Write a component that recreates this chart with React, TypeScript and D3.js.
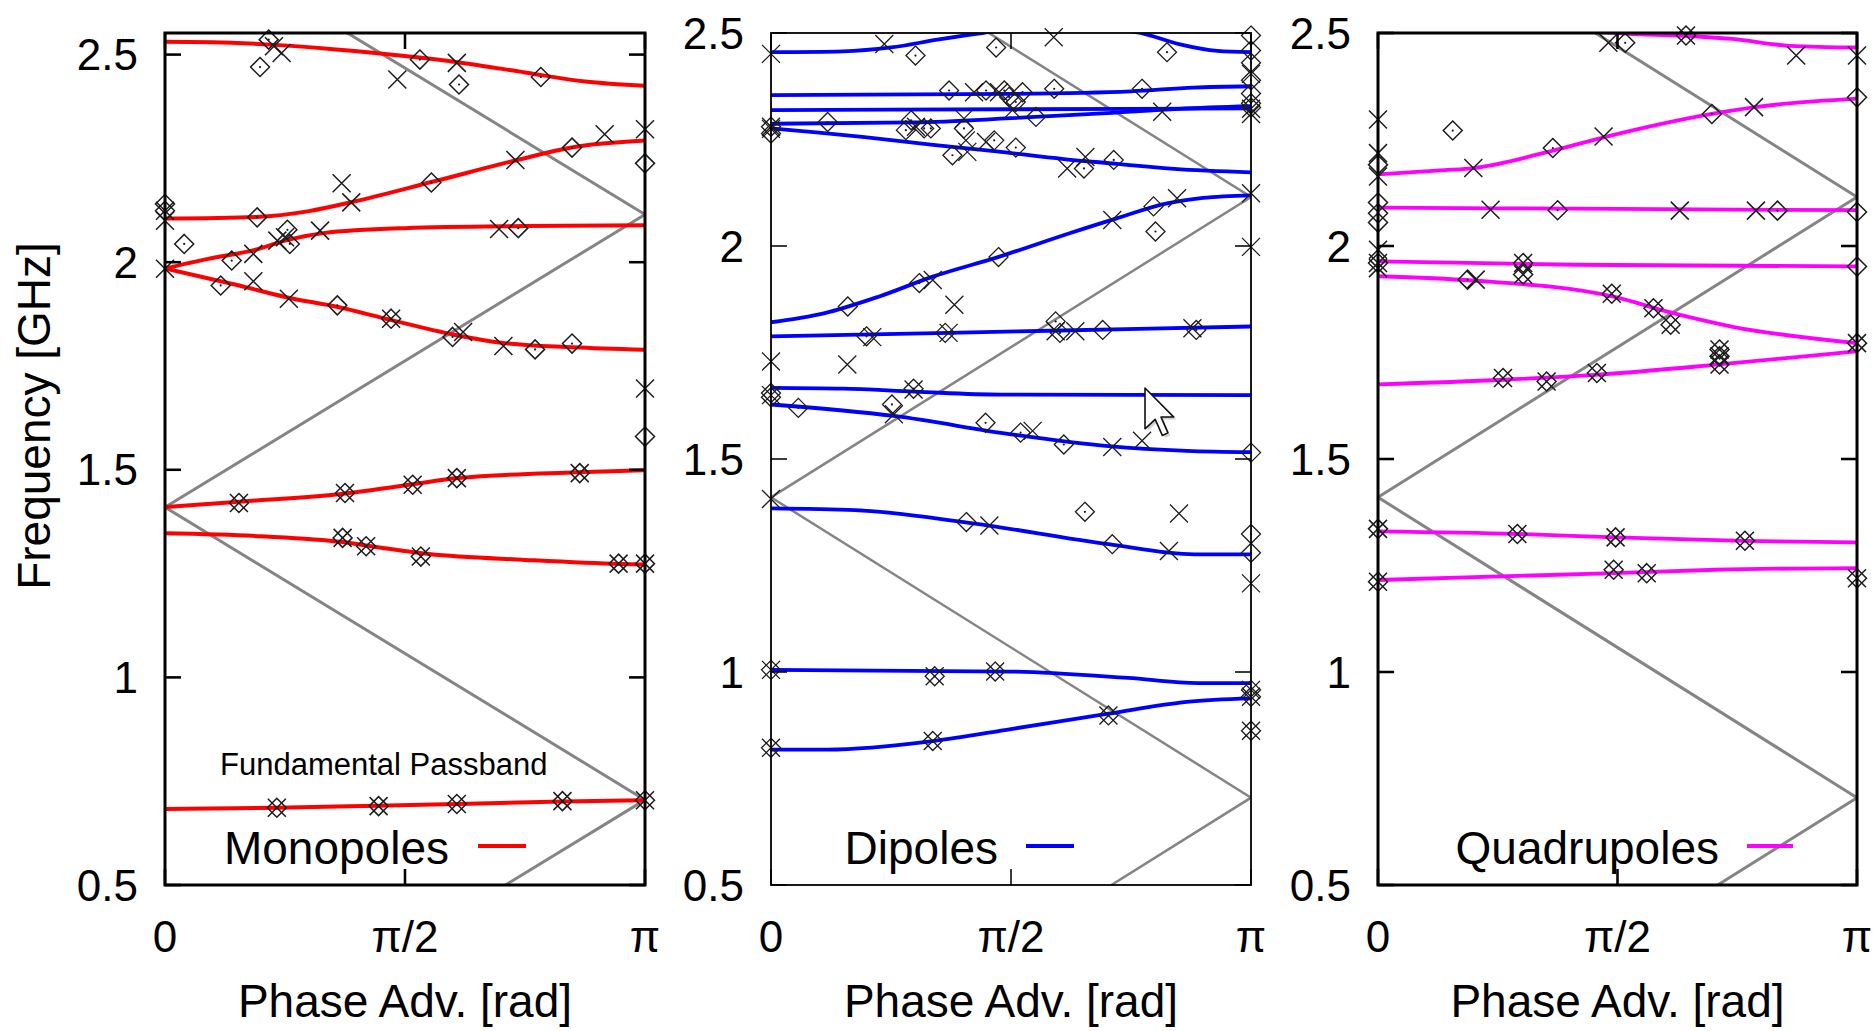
import React from "react";
import * as d3 from "d3";

// [phase advance / π, frequency in GHz]
type Pt = [number, number];

// Folded light line f = c·φ / (2πL) in the reduced zone
const lightLine: Pt[] = [[0, 0], [1, 0.705], [0, 1.41], [1, 2.115], [0, 2.82]];

const phaseTicks = [0, 0.5, 1];
const phaseTickLabels = ["0", "π/2", "π"];
const freqTicks = [0.5, 1, 1.5, 2, 2.5];
const freqTickLabels = ["0.5", "1", "1.5", "2", "2.5"];

// ---------- Monopoles ----------
const monopoleBands: Pt[][] = [
  [[0, 2.531], [0.1, 2.53], [0.22, 2.524], [0.35, 2.513], [0.52, 2.494], [0.62, 2.48], [0.75, 2.457], [0.875, 2.435], [1, 2.425]],
  [[0, 2.105], [0.19, 2.109], [0.3, 2.123], [0.39, 2.145], [0.555, 2.193], [0.73, 2.245], [0.85, 2.277], [1, 2.293]],
  [[0, 1.985], [0.09, 2.008], [0.185, 2.029], [0.26, 2.055], [0.33, 2.07], [0.5, 2.082], [0.75, 2.087], [1, 2.089]],
  [[0, 1.985], [0.15, 1.945], [0.255, 1.915], [0.36, 1.892], [0.47, 1.861], [0.6, 1.826], [0.7, 1.806], [0.85, 1.795], [1, 1.789]],
  [[0, 1.41], [0.154, 1.423], [0.375, 1.443], [0.516, 1.465], [0.61, 1.48], [0.86, 1.494], [1, 1.499]],
  [[0, 1.347], [0.2, 1.34], [0.37, 1.326], [0.45, 1.312], [0.55, 1.297], [0.75, 1.283], [0.95, 1.273], [1, 1.272]],
  [[0, 0.683], [0.233, 0.686], [0.445, 0.691], [0.608, 0.695], [0.828, 0.701], [1, 0.704]],
];
const monopoleCrosses: Pt[] = [
  [0.227, 2.52], [0.243, 2.504], [0.484, 2.44], [0.608, 2.48], [1, 2.32], [0.916, 2.308], [0.73, 2.246],
  [0.368, 2.19], [0.388, 2.144], [0, 2.1], [0, 1.984], [0.184, 2.02], [0.184, 1.954], [0.234, 2.052],
  [0.25, 2.06], [0.323, 2.076], [0.258, 1.912], [0.696, 2.08], [0.621, 1.832], [0.705, 1.798], [1, 1.696],
];
const monopoleDiamonds: Pt[] = [
  [0.216, 2.536], [0.198, 2.47], [0.531, 2.488], [0.6125, 2.428], [0.783, 2.446], [1, 2.238], [0.848, 2.276],
  [0.555, 2.192], [0.192, 2.108], [0, 2.14], [0.04, 2.044], [0.139, 2.004], [0.116, 1.944], [0.255, 2.078],
  [0.26, 2.044], [0.359, 1.896], [0.736, 2.082], [0.599, 1.82], [0.771, 1.79], [0.848, 1.804], [1, 1.58],
];
const monopoleBoth: Pt[] = [
  [0, 2.124], [0.471, 1.864], [0.154, 1.42], [0.375, 1.444], [0.516, 1.464], [0.608, 1.48], [0.864, 1.492],
  [0.37, 1.336], [0.419, 1.316], [0.533, 1.291], [0.945, 1.274], [1, 1.274],
  [0.233, 0.686], [0.445, 0.69], [0.608, 0.695], [0.828, 0.702], [1, 0.704],
];

// ---------- Dipoles ----------
const dipoleBands: Pt[][] = [
  [[0, 2.455], [0.15, 2.457], [0.25, 2.466], [0.35, 2.485], [0.44, 2.5], [0.6, 2.52], [0.77, 2.5], [0.85, 2.474], [0.93, 2.458], [1, 2.455]],
  [[0, 2.354], [0.5, 2.357], [0.75, 2.363], [0.88, 2.372], [1, 2.375]],
  [[0, 2.319], [0.5, 2.321], [1, 2.323]],
  [[0, 2.287], [0.3, 2.29], [0.5, 2.3], [0.7, 2.312], [0.85, 2.322], [1, 2.328]],
  [[0, 2.276], [0.1, 2.266], [0.19, 2.256], [0.333, 2.238], [0.47, 2.222], [0.61, 2.204], [0.72, 2.193], [0.84, 2.181], [1, 2.173]],
  [[0, 1.821], [0.11, 1.842], [0.224, 1.881], [0.337, 1.928], [0.476, 1.975], [0.622, 2.03], [0.72, 2.065], [0.825, 2.1], [0.9, 2.113], [1, 2.119]],
  [[0, 1.788], [0.37, 1.796], [0.58, 1.801], [1, 1.811]],
  [[0, 1.667], [0.15, 1.665], [0.3, 1.658], [0.48, 1.651], [1, 1.65]],
  [[0, 1.628], [0.256, 1.601], [0.5, 1.558], [0.703, 1.53], [0.866, 1.519], [1, 1.516]],
  [[0, 1.384], [0.175, 1.38], [0.402, 1.352], [0.703, 1.3], [0.882, 1.276], [1, 1.276]],
  [[0, 1.005], [0.5, 1.001], [0.744, 0.986], [0.89, 0.974], [1, 0.974]],
  [[0, 0.818], [0.118, 0.818], [0.337, 0.838], [0.5, 0.866], [0.703, 0.902], [0.866, 0.93], [1, 0.938]],
];
const dipoleCrosses: Pt[] = [
  [0, 2.451], [0.236, 2.474], [0.589, 2.49], [1, 2.404], [1, 2.322], [1, 2.31], [1, 2.124],
  [0.423, 2.361], [0.475, 2.361], [0.503, 2.319], [0.815, 2.315], [0.302, 2.28], [0.402, 2.299],
  [0.406, 2.248], [0.409, 2.221], [0.448, 2.244], [0.617, 2.182], [0.655, 2.209], [0, 2.28], [0, 2.275],
  [0.846, 2.112], [0.711, 2.061], [1, 1.998], [0.337, 1.92], [0.382, 1.862], [0, 1.729], [0.159, 1.722],
  [0.211, 1.786], [0.37, 1.796], [0.593, 1.8], [0.634, 1.8], [0.878, 1.807], [0.297, 1.663], [0.256, 1.605],
  [0.545, 1.566], [0.711, 1.528], [0.773, 1.543], [0, 1.406], [0, 1.65],
  [0.85, 1.372], [0.455, 1.344], [0.829, 1.284], [1, 1.208],
];
const dipoleDiamonds: Pt[] = [
  [0.301, 2.447], [0.469, 2.466], [0.825, 2.455], [1, 2.494], [1, 2.459], [1, 2.43], [1, 2.389], [1, 2.358], [1, 2.335], [1, 2.325],
  [0.371, 2.365], [0.448, 2.365], [0.486, 2.365], [0.524, 2.361], [0.496, 2.35], [0.51, 2.338], [0.552, 2.303],
  [0.59, 2.369], [0.773, 2.369], [0.118, 2.291], [0.292, 2.295], [0.281, 2.272], [0.319, 2.276], [0.333, 2.276],
  [0.402, 2.276], [0.378, 2.213], [0.465, 2.248], [0.51, 2.231], [0.652, 2.182], [0.714, 2.202], [0, 2.264], [0, 2.28],
  [0.797, 2.093], [0.801, 2.034], [0.474, 1.974], [0.309, 1.913], [0.16, 1.858], [0.199, 1.788], [0.363, 1.796],
  [0.593, 1.823], [0.602, 1.796], [0.691, 1.803], [0.886, 1.803], [0, 1.655], [0, 1.645], [0.057, 1.62],
  [0.252, 1.628], [0.297, 1.665], [0.447, 1.585], [0.52, 1.562], [0.61, 1.534], [1, 1.515],
  [0.654, 1.376], [0.407, 1.352], [0.711, 1.3], [1, 1.324], [1, 1.28],
];
const dipoleBoth: Pt[] = [
  [0, 1.005], [0.341, 0.99], [0.467, 1.001], [0.703, 0.898], [0.337, 0.838], [0, 0.822],
  [1, 0.958], [1, 0.942], [1, 0.862],
];

// ---------- Quadrupoles ----------
const quadrupoleBands: Pt[][] = [
  [[0.3, 2.53], [0.45, 2.503], [0.55, 2.497], [0.65, 2.493], [0.74, 2.486], [0.86, 2.47], [1, 2.466]],
  [[0, 2.168], [0.139, 2.178], [0.199, 2.183], [0.369, 2.225], [0.475, 2.256], [0.697, 2.31], [0.787, 2.326], [1, 2.346]],
  [[0, 2.09], [0.5, 2.087], [1, 2.084]],
  [[0, 1.964], [0.41, 1.956], [1, 1.952]],
  [[0, 1.929], [0.197, 1.919], [0.492, 1.881], [0.61, 1.844], [0.738, 1.811], [1, 1.772]],
  [[0, 1.675], [0.262, 1.686], [0.459, 1.698], [0.713, 1.722], [1, 1.753]],
  [[0, 1.33], [0.291, 1.324], [0.496, 1.316], [0.766, 1.308], [1, 1.304]],
  [[0, 1.216], [0.492, 1.232], [0.705, 1.24], [1, 1.244]],
];
const quadrupoleCrosses: Pt[] = [
  [0.481, 2.477], [0.643, 2.494], [0.873, 2.447], [1, 2.447], [0.785, 2.326], [0.471, 2.257], [0.199, 2.183],
  [0, 2.297], [0, 2.218], [0, 2.163], [0, 1.991], [0, 1.948], [0.235, 2.085], [0.63, 2.083], [0.789, 2.083],
  [0.204, 1.921],
];
const quadrupoleDiamonds: Pt[] = [
  [0.516, 2.477], [0.643, 2.494], [1, 2.349], [0.697, 2.31], [0.365, 2.23], [0.156, 2.271], [0, 2.191],
  [0, 2.102], [0, 2.077], [0, 2.055], [0.375, 2.084], [0.834, 2.083], [1, 2.08], [1, 1.952], [0.187, 1.921],
];
const quadrupoleBoth: Pt[] = [
  [0, 1.96], [0.303, 1.96], [0.303, 1.933], [0.488, 1.888], [0.575, 1.854], [0.611, 1.815],
  [0.713, 1.757], [0.713, 1.741], [0.713, 1.722], [1, 1.772], [0.261, 1.69], [0.352, 1.682], [0.457, 1.702],
  [0, 1.336], [0.291, 1.324], [0.496, 1.316], [0.766, 1.308],
  [0, 1.212], [0.492, 1.24], [0.561, 1.232], [1, 1.22],
];

// ---------- layout ----------
const W = 1873;
const H = 1031;
const TOP = 33;
const BOTTOM = 885;
const FONT = "'Liberation Sans', Arial, Helvetica, sans-serif";

interface PanelSpec {
  id: string;
  label: string;
  left: number;
  right: number;
  fMax: number;
  color: string;
  bands: Pt[][];
  crosses: Pt[];
  diamonds: Pt[];
  both: Pt[];
  frameWidth: number;
  curveWidth: number;
  markerWidth: number;
  grayWidth: number;
  legendTextX: number;
  legendLine: [number, number];
}

const panels: PanelSpec[] = [
  {
    id: "mono", label: "Monopoles", left: 165, right: 645, fMax: 2.552, color: "#ff0000",
    bands: monopoleBands, crosses: monopoleCrosses, diamonds: monopoleDiamonds, both: monopoleBoth,
    frameWidth: 3, curveWidth: 4, markerWidth: 1.5, grayWidth: 3,
    legendTextX: 449, legendLine: [478, 526],
  },
  {
    id: "di", label: "Dipoles", left: 771, right: 1251, fMax: 2.5, color: "#0000ff",
    bands: dipoleBands, crosses: dipoleCrosses, diamonds: dipoleDiamonds, both: dipoleBoth,
    frameWidth: 1.8, curveWidth: 3.8, markerWidth: 1.3, grayWidth: 2.5,
    legendTextX: 998, legendLine: [1026, 1074],
  },
  {
    id: "quad", label: "Quadrupoles", left: 1378, right: 1857, fMax: 2.5, color: "#ff00ff",
    bands: quadrupoleBands, crosses: quadrupoleCrosses, diamonds: quadrupoleDiamonds, both: quadrupoleBoth,
    frameWidth: 3, curveWidth: 3.8, markerWidth: 1.5, grayWidth: 3,
    legendTextX: 1719, legendLine: [1747, 1793],
  },
];

const crossPath = (h: number) => `M${-h},${-h}L${h},${h}M${-h},${h}L${h},${-h}`;
const diamondPath = (d: number) => `M0,${-d}L${d},0L0,${d}L${-d},0Z`;
const MARK_INK = "#1c1c1c";

function Panel({ p, first }: { p: PanelSpec; first: boolean }) {
  const x = d3.scaleLinear().domain([0, 1]).range([p.left, p.right]);
  const y = d3.scaleLinear().domain([0.5, p.fMax]).range([BOTTOM, TOP]);
  const line = d3
    .line<Pt>()
    .x((d) => x(d[0]))
    .y((d) => y(d[1]))
    .curve(d3.curveMonotoneX);
  const straight = d3
    .line<Pt>()
    .x((d) => x(d[0]))
    .y((d) => y(d[1]));
  const clipId = `clip-${p.id}`;
  const tickLen = 16;
  const tickW = p.frameWidth * 0.85;

  const crossD = crossPath(9);
  const diamondD = diamondPath(9.5);

  return (
    <g>
      <defs>
        <clipPath id={clipId}>
          <rect x={p.left} y={TOP} width={p.right - p.left} height={BOTTOM - TOP} />
        </clipPath>
      </defs>
      <g clipPath={`url(#${clipId})`}>
        <path d={straight(lightLine) || ""} fill="none" stroke="#858585" strokeWidth={p.grayWidth} />
        {p.bands.map((b, i) => (
          <path key={i} d={line(b) || ""} fill="none" stroke={p.color} strokeWidth={p.curveWidth} />
        ))}
      </g>

      {/* simulated modes */}
      <g fill="none" stroke={MARK_INK} strokeWidth={p.markerWidth}>
        {[...p.crosses, ...p.both].map((d, i) => (
          <path key={`c${i}`} d={crossD} transform={`translate(${x(d[0])},${y(d[1])})`} />
        ))}
        {[...p.diamonds, ...p.both].map((d, i) => (
          <g key={`d${i}`} transform={`translate(${x(d[0])},${y(d[1])})`}>
            <path d={diamondD} />
            <circle r={1.1} fill={MARK_INK} stroke="none" />
          </g>
        ))}
      </g>

      {/* ticks */}
      <g stroke="#000" strokeWidth={tickW}>
        {freqTicks.map((t) => (
          <g key={t}>
            <line x1={p.left} x2={p.left + tickLen} y1={y(t)} y2={y(t)} />
            <line x1={p.right} x2={p.right - tickLen} y1={y(t)} y2={y(t)} />
          </g>
        ))}
        {phaseTicks.map((t) => (
          <g key={t}>
            <line x1={x(t)} x2={x(t)} y1={BOTTOM} y2={BOTTOM - tickLen} />
            <line x1={x(t)} x2={x(t)} y1={TOP} y2={TOP + tickLen} />
          </g>
        ))}
      </g>

      <rect
        x={p.left}
        y={TOP}
        width={p.right - p.left}
        height={BOTTOM - TOP}
        fill="none"
        stroke="#000"
        strokeWidth={p.frameWidth}
      />

      <g fontFamily={FONT} fill="#000">
        {freqTicks.map((t, i) => (
          <text key={t} x={p.left - 27} y={y(t) + 15.5} fontSize={44} textAnchor="end">
            {freqTickLabels[i]}
          </text>
        ))}
        {phaseTicks.map((t, i) => (
          <text key={t} x={x(t)} y={952} fontSize={44} textAnchor="middle">
            {phaseTickLabels[i]}
          </text>
        ))}
        <text x={(p.left + p.right) / 2} y={1017} fontSize={46} textAnchor="middle">
          Phase Adv. [rad]
        </text>
        <text x={p.legendTextX} y={864} fontSize={46} textAnchor="end">
          {p.label}
        </text>
        {first && (
          <>
            <text x={220} y={775} fontSize={31}>
              Fundamental Passband
            </text>
            <text transform="translate(50,416) rotate(-90)" fontSize={46} textAnchor="middle">
              Frequency [GHz]
            </text>
          </>
        )}
      </g>
      <line
        x1={p.legendLine[0]}
        x2={p.legendLine[1]}
        y1={846}
        y2={846}
        stroke={p.color}
        strokeWidth={p.curveWidth}
      />
    </g>
  );
}

// mouse pointer left on the screen capture
function Pointer({ x, y, s }: { x: number; y: number; s: number }) {
  const d = "M0,0L0,16L4,12.3L6.8,18.6L9,17.6L6.3,11.4L11.3,11.4Z";
  return (
    <g>
      <path d={d} transform={`translate(${x + 2.5},${y + 2.5}) scale(${s})`} fill="#000" opacity={0.18} />
      <path
        d={d}
        transform={`translate(${x},${y}) scale(${s})`}
        fill="#fff"
        stroke="#111"
        strokeWidth={1.6 / s}
        strokeLinejoin="round"
      />
    </g>
  );
}

export default function App() {
  return (
    <svg
      width={W}
      height={H}
      viewBox={`0 0 ${W} ${H}`}
      style={{ position: "absolute", left: 0, top: 0, background: "#fff" }}
    >
      <rect width={W} height={H} fill="#fff" />
      {panels.map((p, i) => (
        <Panel key={p.id} p={p} first={i === 0} />
      ))}
      <Pointer x={1145} y={388} s={2.55} />
    </svg>
  );
}
